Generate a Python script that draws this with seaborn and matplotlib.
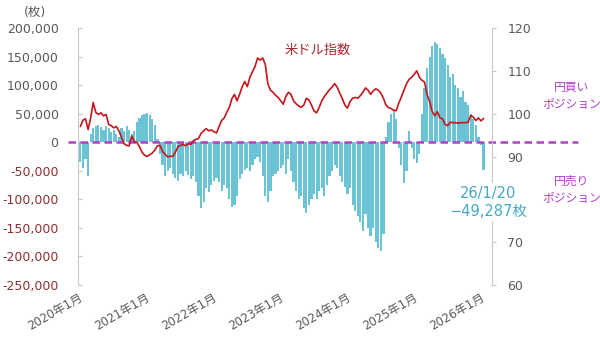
import numpy as np
import pandas as pd
import matplotlib
matplotlib.use("Agg")
import matplotlib.pyplot as plt
import matplotlib.dates as mdates
import matplotlib.transforms as mtransforms
import seaborn as sns

sns.set_style("white")
plt.rcParams['font.family'] = ['DejaVu Sans', 'Noto Sans CJK JP']

# ---------------- data ----------------
end_date = "2026-01-20"

# IMM yen net positions (thousand contracts), bi-weekly
positions_k = [
    # 2020
    -35, -45, -30, -60, 15, 25, 28, 30, 27, 22, 28, 25, 18, 22, 15, 10, 25, 20, 28, 22, 15, 20, 35, 42, 48, 50,
    # 2021
    52, 47, 40, 30, 5, -20, -40, -60, -50, -45, -55, -62, -68, -55, -60, -50, -58, -65, -60, -70, -95, -116, -105, -80, -88, -75,
    # 2022
    -68, -62, -70, -85, -75, -80, -100, -114, -110, -95, -65, -55, -48, -45, -50, -40, -30, -25, -35, -60, -95, -105, -85, -60, -55, -50,
    # 2023
    -45, -40, -55, -30, -50, -70, -85, -100, -95, -115, -124, -110, -100, -90, -100, -85, -80, -95, -75, -60, -50, -40, -45, -60, -70, -79,
    # 2024
    -90, -80, -110, -120, -130, -140, -155, -125, -150, -165, -150, -175, -185, -190, -160, 10, 35, 50, 55, 40, -10, -40, -72, -50, 20, -10,
    # 2025
    -30, -37, -20, 50, 95, 130, 150, 168, 175, 172, 165, 155, 148, 135, 115, 120, 100, 95, 80, 90, 70, 65, 50, 40, 30, 10,
    # 2026
    -5, -49.287,
]

# US dollar index, bi-weekly
dollar_index = [
    97.0, 98.5, 98.8, 96.3, 99.0, 102.6, 100.3, 99.8, 100.2, 99.5, 99.8, 97.5, 97.2, 96.7, 97.0, 96.0, 94.5, 93.0, 92.6, 92.5, 94.8, 93.5, 93.3, 92.3, 91.0, 90.3,
    90.0, 90.4, 90.8, 91.5, 92.5, 92.6, 91.2, 90.5, 89.9, 90.1, 90.0, 91.0, 92.3, 92.6, 92.8, 92.5, 93.0, 92.8, 93.7, 94.0, 94.2, 95.4, 96.0, 96.5, 96.0, 96.2,
    95.8, 95.5, 97.0, 98.4, 99.0, 100.3, 101.5, 103.5, 104.5, 103.0, 104.5, 106.3, 107.5, 106.3, 108.5, 109.8, 111.0, 113.0, 112.5, 113.0, 111.5, 107.0, 105.5, 105.0, 104.3, 103.8,
    103.0, 102.2, 104.0, 105.0, 104.5, 103.0, 102.3, 101.8, 101.5, 102.0, 103.6, 103.2, 102.0, 100.6, 100.2, 101.5, 103.0, 104.0, 104.8, 105.6, 106.2, 107.0, 106.2, 104.8, 103.5, 102.0,
    101.3, 102.8, 103.6, 103.8, 103.6, 104.2, 105.0, 106.0, 105.5, 104.5, 105.3, 105.8, 105.5, 104.8, 103.6, 102.0, 101.4, 101.2, 100.8, 100.7, 102.5, 103.9, 105.5, 107.0, 108.0, 108.5,
    109.2, 110.0, 108.5, 107.8, 107.4, 104.5, 102.8, 100.5, 99.5, 100.5, 99.0, 98.8, 97.5, 97.2, 98.0, 97.9, 97.9, 97.8, 97.9, 97.9, 97.9, 98.0, 99.6, 99.2, 98.4, 99.0,
    98.3, 98.9,
]

x_tick_dates = ["2020-01-01", "2021-01-01", "2022-01-01", "2023-01-01", "2024-01-01", "2025-01-01", "2026-01-01"]
x_tick_labels = ["2020年1月", "2021年1月", "2022年1月", "2023年1月", "2024年1月", "2025年1月", "2026年1月"]
left_ticks = [200000, 150000, 100000, 50000, 0, -50000, -100000, -150000, -200000, -250000]
right_ticks = [120, 110, 100, 90, 80, 70, 60]

dates = pd.date_range(end=end_date, periods=len(positions_k), freq="14D")
df = pd.DataFrame({
    "x": mdates.date2num(dates),
    "pos": np.array(positions_k) * 1000.0,
    "usd": dollar_index,
})

# ---------------- figure ----------------
W, H = 600, 337
fig = plt.figure(figsize=(6.0, 3.37), dpi=100)
L, R, T, B = 78, 492, 28, 285
ax = fig.add_axes([L / W, 1 - B / H, (R - L) / W, (B - T) / H])

bar_color = "#6cc3d6"
line_color = "#c4161c"
gray = "#595959"
neg_red = "#8e3030"
spine_gray = "#c8c8c8"
purple = "#b040cc"
teal = "#45a9c4"

sns.barplot(data=df, x="x", y="pos", native_scale=True, color=bar_color, saturation=1,
            width=0.85, linewidth=0, errorbar=None, ax=ax, zorder=1)

xlim = (mdates.date2num(pd.Timestamp("2020-01-01")), mdates.date2num(pd.Timestamp("2026-03-07")))
ax.set_ylim(-250000, 200000)
ax.set_xlim(*xlim)
ax.set_xlabel("")
ax.set_ylabel("")

# zero dashed line extending beyond the axes
trans = mtransforms.blended_transform_factory(ax.transAxes, ax.transData)
ax.plot([-10 / (R - L), (578 - L) / (R - L)], [0, 0], transform=trans, clip_on=False,
        color=purple, lw=1.8, ls=(0, (3, 1.8)), zorder=5)

ax2 = ax.twinx()
sns.lineplot(data=df, x="x", y="usd", ax=ax2, color=line_color, linewidth=1.2, zorder=6)
ax2.set_ylim(60, 120)
ax2.set_xlabel("")
ax2.set_ylabel("")

# spines
for a in (ax, ax2):
    for s in ("top", "bottom"):
        a.spines[s].set_visible(False)
ax.spines["right"].set_visible(False)
ax2.spines["left"].set_visible(False)
ax.spines["left"].set_color(spine_gray)
ax2.spines["right"].set_color(spine_gray)

# left ticks
ax.set_yticks(left_ticks)
ax.set_yticklabels([f"{v:,}" for v in left_ticks])
ax.tick_params(axis="y", direction="in", length=3, color=spine_gray, labelsize=9, pad=14)
for lab, v in zip(ax.get_yticklabels(), left_ticks):
    lab.set_color(neg_red if v < 0 else gray)

# right ticks (80 is hidden behind the annotation in the original)
ax2.set_yticks(right_ticks)
ax2.set_yticklabels(["" if v == 80 else str(v) for v in right_ticks])
ax2.tick_params(axis="y", direction="out", length=3, color=spine_gray, labelsize=9, labelcolor=gray, pad=8)

# x ticks
xt = mdates.date2num(pd.to_datetime(x_tick_dates))
ax.set_xlim(*xlim)
ax.set_xticks(xt)
ax.set_xticklabels(x_tick_labels, rotation=30, ha="right", va="top", rotation_mode="anchor")
ax.tick_params(axis="x", length=0, labelsize=8.5, labelcolor=gray, pad=4)

# annotations
def ftext(px, py, s, **kw):
    return fig.text(px / W, 1 - py / H, s, **kw)

ftext(35, 12, "(枚)", color=gray, fontsize=9, ha="center", va="center")
ftext(318, 50, "米ドル指数", color="#a5282a", fontsize=9.5, ha="center", va="center")
ftext(572, 96, "円買い\nポジション", color=purple, fontsize=8.5, ha="center", va="center",
      linespacing=1.4)
ftext(572, 190, "円売り\nポジション", color=purple, fontsize=8.5, ha="center", va="center",
      linespacing=1.4)
ftext(488, 202, "26/1/20\n\u221249,287枚", color=teal, fontsize=10.5, ha="center", va="center",
      linespacing=1.25,
      bbox=dict(facecolor="white", edgecolor="none", pad=1.5), zorder=10)

fig.savefig("out.png", dpi=100)
